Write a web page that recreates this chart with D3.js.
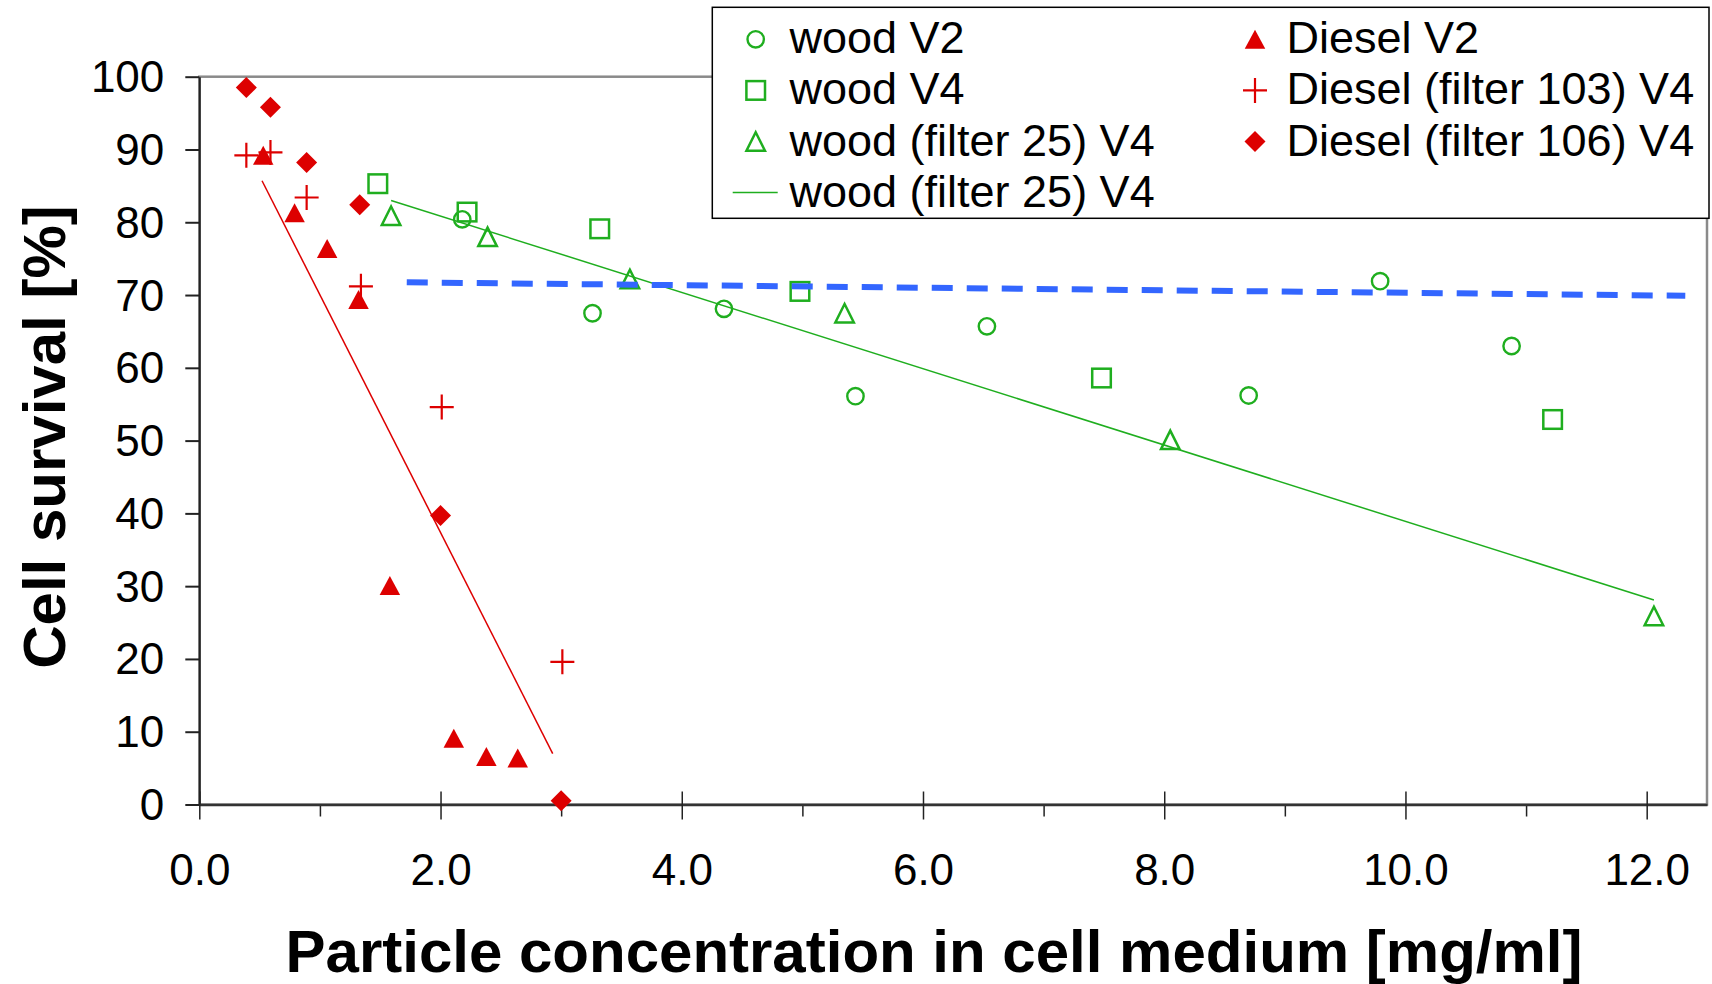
<!DOCTYPE html>
<html>
<head>
<meta charset="utf-8">
<script src="https://cdn.jsdelivr.net/npm/d3@7"></script>
<style>
  html, body { margin: 0; padding: 0; background: #fff; }
  svg { display: block; }
  text { font-family: "Liberation Sans", Arial, Helvetica, sans-serif; fill: #000; }
</style>
</head>
<body>
<svg id="chart" width="1712" height="984"></svg>
<script>
// ---------- data ----------
const woodV2_x = [2.18, 3.26, 4.35, 5.44, 6.53, 8.70, 9.79, 10.88];
const woodV2_y = [80.4, 67.5, 68.1, 56.1, 65.7, 56.2, 71.9, 63.0];

const woodV4_x = [1.48, 2.22, 3.32, 4.98, 7.48, 11.22];
const woodV4_y = [85.3, 81.4, 79.1, 70.5, 58.6, 52.9];

const woodF25_x = [1.59, 2.39, 3.57, 5.35, 8.05, 12.06];
const woodF25_y = [80.9, 78.0, 72.2, 67.5, 50.1, 25.9];

const woodF25Fit_x = [1.59, 12.06];
const woodF25Fit_y = [83.0, 28.1];

const dieselV2_x = [0.53, 0.79, 1.06, 1.32, 1.58, 2.11, 2.38, 2.64];
const dieselV2_y = [89.2, 81.3, 76.4, 69.4, 30.1, 9.1, 6.6, 6.4];

const diesel103_x = [0.39, 0.59, 0.89, 1.34, 2.01, 3.01];
const diesel103_y = [89.2, 89.6, 83.4, 71.2, 54.6, 19.6];

const diesel106_x = [0.39, 0.59, 0.89, 1.33, 2.00, 3.00];
const diesel106_y = [98.5, 95.8, 88.2, 82.4, 39.7, 0.5];

const dieselFit_x = [0.52, 2.93];
const dieselFit_y = [85.7, 7.0];

const blueTrend_x = [1.72, 12.32];
const blueTrend_y = [71.75, 69.9];

const yTicks = [0, 10, 20, 30, 40, 50, 60, 70, 80, 90, 100];
const xMajorTicks = [0, 2, 4, 6, 8, 10, 12];
const xMinorTicks = [1, 3, 5, 7, 9, 11];

const legendLeft = ["wood V2", "wood V4", "wood (filter 25) V4", "wood (filter 25) V4"];
const legendRight = ["Diesel V2", "Diesel (filter 103) V4", "Diesel (filter 106) V4"];

const xTitle = "Particle concentration in cell medium [mg/ml]";
const yTitle = "Cell survival [%]";

// ---------- styles ----------
const RED = "#dd0000", GREEN = "#1fae1f", BLUE = "#3366ff";
const PL = 199.3, PR = 1707, PT = 76.7, PB = 804.5;

const svg = d3.select("#chart");
const x = d3.scaleLinear().domain([0, 12.5]).range([PL, PR]);
const y = d3.scaleLinear().domain([0, 100]).range([PB, PT]);

const zip = (xs, ys) => xs.map((v, i) => ({x: v, y: ys[i]}));

// plot border (top/right gray)
svg.append("rect")
  .attr("x", PL).attr("y", PT).attr("width", PR - PL).attr("height", PB - PT)
  .attr("fill", "none").attr("stroke", "#8a8a8a").attr("stroke-width", 2.5);

// Y axis
const yAxis = svg.append("g").attr("transform", `translate(${PL},0)`)
  .call(d3.axisLeft(y).tickValues(yTicks).tickSize(14).tickSizeOuter(0).tickPadding(21).tickFormat(d3.format("d")));
yAxis.select(".domain").attr("stroke", "#222").attr("stroke-width", 2);
yAxis.selectAll(".tick line").attr("stroke", "#222").attr("stroke-width", 2);
yAxis.selectAll(".tick text").attr("font-size", 44).attr("dy", "0.34em")
  .attr("font-family", '"Liberation Sans", Arial, sans-serif').attr("fill", "#000");

// X axis minor
const xMinor = svg.append("g").attr("transform", `translate(0,${PB})`)
  .call(d3.axisBottom(x).tickValues(xMinorTicks).tickSize(12).tickSizeOuter(0).tickFormat(""));
xMinor.select(".domain").remove();
xMinor.selectAll(".tick line").attr("stroke", "#222").attr("stroke-width", 1.5);

// X axis major
const xAxis = svg.append("g").attr("transform", `translate(0,${PB})`)
  .call(d3.axisBottom(x).tickValues(xMajorTicks).tickSize(15).tickSizeOuter(0).tickPadding(34.5).tickFormat(d3.format(".1f")));
xAxis.select(".domain").attr("stroke", "#333").attr("stroke-width", 2.5);
xAxis.selectAll(".tick line").attr("y1", -13).attr("stroke", "#222").attr("stroke-width", 1.5);
xAxis.selectAll(".tick text").attr("font-size", 44)
  .attr("font-family", '"Liberation Sans", Arial, sans-serif').attr("fill", "#000");

// axis titles
svg.append("text").attr("x", 934).attr("y", 972).attr("text-anchor", "middle")
  .attr("font-size", 60).attr("font-weight", "bold").text(xTitle);
svg.append("text").attr("transform", "translate(65,437) rotate(-90)").attr("text-anchor", "middle")
  .attr("font-size", 60).attr("font-weight", "bold").text(yTitle);

// ---------- marker shapes ----------
function triPath(w, h) { return `M0,${-h/2}L${w/2},${h/2}L${-w/2},${h/2}Z`; }
const shapes = {
  circle: g => g.append("circle").attr("r", 8.2).attr("fill", "none").attr("stroke", GREEN).attr("stroke-width", 2.4),
  square: g => g.append("rect").attr("x", -9.3).attr("y", -9.3).attr("width", 18.6).attr("height", 18.6)
                 .attr("fill", "none").attr("stroke", GREEN).attr("stroke-width", 2.5),
  otri: g => g.append("path").attr("d", triPath(18.5, 18.5)).attr("fill", "none").attr("stroke", GREEN)
                 .attr("stroke-width", 2.5).attr("stroke-linejoin", "miter"),
  ftri: g => g.append("path").attr("d", triPath(20.5, 19)).attr("fill", RED),
  plus: g => g.append("path").attr("d", "M-12,0H12M0,-12.5V12.5").attr("stroke", RED).attr("stroke-width", 2.2).attr("fill", "none"),
  diamond: g => g.append("path").attr("d", "M0,-10.5L10.5,0L0,10.5L-10.5,0Z").attr("fill", RED)
};

function drawSeries(xs, ys, shape) {
  const g = svg.append("g");
  g.selectAll("g").data(zip(xs, ys)).join("g")
    .attr("transform", d => `translate(${x(d.x)},${y(d.y)})`)
    .each(function() { shapes[shape](d3.select(this)); });
}

drawSeries(woodV2_x, woodV2_y, "circle");
drawSeries(woodV4_x, woodV4_y, "square");
drawSeries(woodF25_x, woodF25_y, "otri");
drawSeries(dieselV2_x, dieselV2_y, "ftri");
drawSeries(diesel103_x, diesel103_y, "plus");
drawSeries(diesel106_x, diesel106_y, "diamond");

// ---------- lines ----------
const line = d3.line().x(d => x(d.x)).y(d => y(d.y));
svg.append("path").datum(zip(woodF25Fit_x, woodF25Fit_y)).attr("d", line)
  .attr("fill", "none").attr("stroke", GREEN).attr("stroke-width", 1.5);
svg.append("path").datum(zip(dieselFit_x, dieselFit_y)).attr("d", line)
  .attr("fill", "none").attr("stroke", RED).attr("stroke-width", 1.5);
svg.append("path").datum(zip(blueTrend_x, blueTrend_y)).attr("d", line)
  .attr("fill", "none").attr("stroke", BLUE).attr("stroke-width", 6).attr("stroke-dasharray", "21,14");

// ---------- legend ----------
const LX = 712.3, LY = 7.3, LW = 1710 - 712.3 - 1, LH = 218.3 - 7.3;
const leg = svg.append("g");
leg.append("rect").attr("x", LX).attr("y", LY).attr("width", LW).attr("height", LH)
  .attr("fill", "#fff").attr("stroke", "#000").attr("stroke-width", 1.5);
const rowBase = [53.3, 104.4, 155.5, 206.6];
const leftShapes = ["circle", "square", "otri", "line"];
const rightShapes = ["ftri", "plus", "diamond"];

legendLeft.forEach((t, i) => {
  const cy = rowBase[i] - 14;
  if (leftShapes[i] === "line") {
    leg.append("line").attr("x1", 732.7).attr("x2", 777.7).attr("y1", cy).attr("y2", cy)
      .attr("stroke", GREEN).attr("stroke-width", 1.5);
  } else {
    const g = leg.append("g").attr("transform", `translate(755.7,${cy})`);
    shapes[leftShapes[i]](g);
  }
  leg.append("text").attr("x", 789.5).attr("y", rowBase[i]).attr("font-size", 45).text(t);
});
legendRight.forEach((t, i) => {
  const cy = rowBase[i] - 14;
  const g = leg.append("g").attr("transform", `translate(1255,${cy})`);
  shapes[rightShapes[i]](g);
  leg.append("text").attr("x", 1286.5).attr("y", rowBase[i]).attr("font-size", 45).text(t);
});
</script>
</body>
</html>
